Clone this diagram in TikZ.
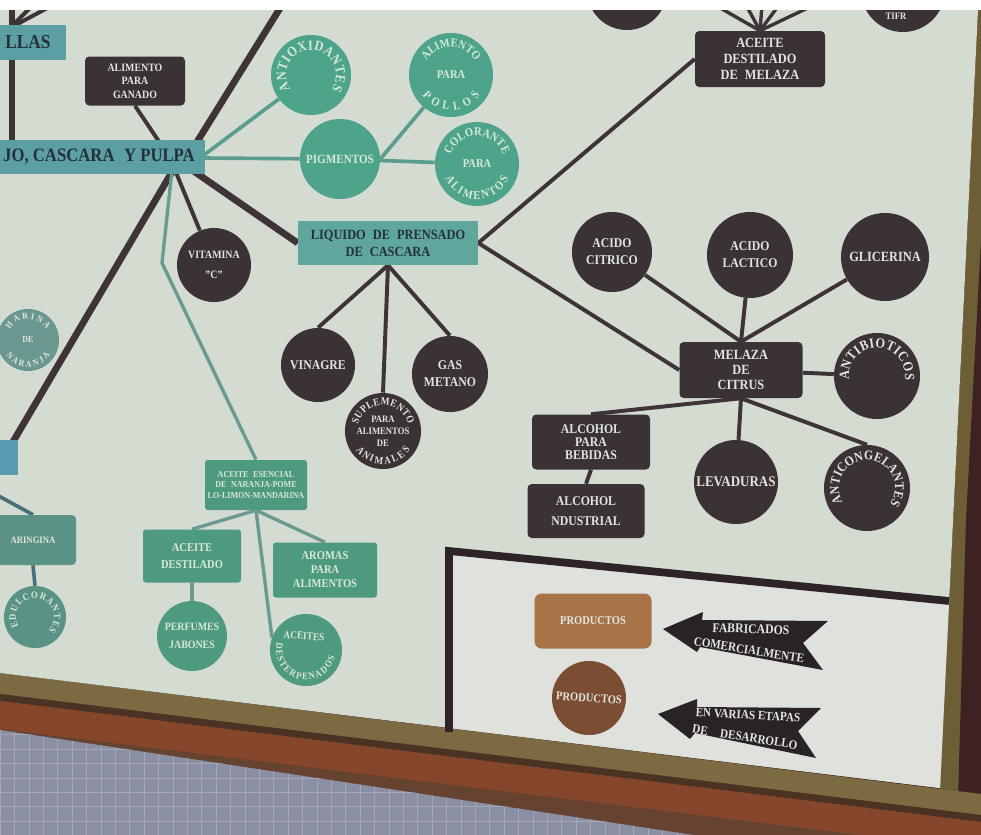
\documentclass[tikz,border=0pt]{standalone}
\usepackage{fontspec}
\setmainfont{Liberation Serif}[FakeStretch=0.88]
\usetikzlibrary{decorations.text}
\pgfdeclarelayer{board}
\pgfdeclarelayer{lines}
\pgfdeclarelayer{topl}
\pgfsetlayers{board,lines,main,topl}
\definecolor{cboard}{HTML}{D4DBD1}
\definecolor{clegbg}{HTML}{DEE1DC}
\definecolor{cdk}{HTML}{3A3234}
\definecolor{cltxt}{HTML}{E2E5DE}
\definecolor{cline}{HTML}{3E3337}
\definecolor{ctl}{HTML}{5A9C8E}
\definecolor{cessl}{HTML}{6A9A90}
\definecolor{ctealc}{HTML}{4DA48B}
\definecolor{ctealtxt}{HTML}{D5EAD5}
\definecolor{cliq}{HTML}{5FA69D}
\definecolor{cmainb}{HTML}{5B9FA3}
\definecolor{cboxtxt}{HTML}{24303A}
\definecolor{cgreenb}{HTML}{4E9A7E}
\definecolor{cgreentxt}{HTML}{D8E8D4}
\definecolor{cgreyc}{HTML}{6A9890}
\definecolor{cnar}{HTML}{5B9286}
\definecolor{clbox}{HTML}{5A9BB3}
\definecolor{cprodb}{HTML}{A87346}
\definecolor{cprodc}{HTML}{7B4D33}
\definecolor{cframe}{HTML}{2E2327}
\definecolor{carrow}{HTML}{2A2326}
\definecolor{colive}{HTML}{6E5E36}
\definecolor{cdarkred}{HTML}{3C2220}
\definecolor{cwoodA}{HTML}{7C6B42}
\definecolor{cwoodB}{HTML}{4B3323}
\definecolor{cwoodC}{HTML}{85462B}
\definecolor{cwoodD}{HTML}{654330}
\definecolor{ctile}{HTML}{8A8FA3}
\definecolor{ctilegrid}{HTML}{A3A7B6}
\definecolor{cleftl}{HTML}{4A6F78}
\newcommand\cfont[2]{\fontsize{#1}{#1}\selectfont\bfseries\color{#2}}
\newcommand\arctext[7]{\path[decorate,decoration={text along path,text align=fit to path,text={|#6|#7}}] (#1,#2) ++(#4:#3) arc[start angle=#4,end angle=#5,radius=#3];}
\begin{document}
\begin{tikzpicture}[x=0.025cm,y=-0.025cm,
  crad/.style={minimum size=#1*0.05cm},
  bsize/.style 2 args={minimum width=#1*0.025cm,minimum height=#2*0.025cm},
  fs/.style 2 args={font=\fontsize{#1}{#2}\selectfont\bfseries},
  dk/.style={fill=cdk,text=cltxt,align=center,inner sep=0pt},
  dkbox/.style={dk,rectangle,rounded corners=3pt},
  dkcirc/.style={dk,circle},
  tealc/.style={fill=ctealc,text=ctealtxt,circle,inner sep=0pt,align=center},
  greenbox/.style={fill=cgreenb,text=cgreentxt,rectangle,rounded corners=2pt,inner sep=0pt,align=center},
  tealbox/.style={text=cboxtxt,rectangle,inner sep=0pt,align=center},
  dline/.style={draw=cline,line width=2.8pt},
  dthick/.style={draw=cline,line width=4.8pt},
  tline/.style={draw=ctl,line width=2.6pt},
  essline/.style={draw=cessl,line width=2.4pt},
]
\useasboundingbox (0,0) rectangle (981,835);

\begin{pgfonlayer}{board}
\fill[cdarkred] (0,0) rectangle (981,835);
\fill[colive] (978,10) -- (981,10) -- (981,835) -- (940,835) -- (940,788) -- cycle;
\fill[cdarkred] (981,240) -- (981,835) -- (957,835) -- (966,520) -- cycle;
\fill[cwoodD] (0,673) -- (981,794) -- (981,835) -- (0,835) -- cycle;
\fill[cwoodA] (0,673) -- (981,794) -- (981,815) -- (0,694) -- cycle;
\fill[cwoodB] (0,694) -- (981,815) -- (981,822) -- (0,701) -- cycle;
\fill[cwoodC] (0,701) -- (981,822) -- (981,850) -- (0,729) -- cycle;
\begin{scope}
\clip (0,730) -- (700,836) -- (0,836) -- cycle;
\fill[ctile] (0,700) rectangle (720,840);
\draw[ctilegrid, line width=0.4pt, step=0.36cm] (0,700) grid (720,840);
\end{scope}
\fill[cboard] (0,10) -- (978,10) -- (940,788) -- (0,673) -- cycle;
\fill[clegbg] (449,551) -- (949,601) -- (940,788) -- (449,728) -- cycle;
\end{pgfonlayer}

% ---------- nodes ----------
\node[tealbox, fill=cmainb, bsize={75}{35}, fs={14}{14}] (llas) at (28,42) {LLAS};
\node[tealbox, fill=cmainb, bsize={212}{34}, fs={13.5}{14}] (main) at (99,157) {JO, CASCARA\enspace Y PULPA};
\node[dkbox, bsize={100}{49}, fs={8}{9.5}] (gan) at (135,81) {ALIMENTO\\PARA\\GANADO};
\node[tealc, crad=40] (antiox) at (311,75) {};
\node[tealc, crad=40, fs={9}{9}] (pigm) at (340,159) {PIGMENTOS};
\node[tealc, crad=42, fs={8.5}{8.5}] (pollos) at (451,75) {PARA};
\node[tealc, crad=42, fs={8.5}{8.5}] (color) at (477,164) {PARA};
\node[tealbox, fill=cliq, bsize={180}{44}, fs={10}{12}] (liq) at (388,243) {LIQUIDO\enspace DE\enspace PRENSADO\\DE\enspace CASCARA};
\node[dkcirc, crad=37, fs={8}{14}] (vit) at (214,265) {VITAMINA\\"C"};
\node[dkcirc, crad=37, fs={9.5}{10}] (vin) at (318,365) {VINAGRE};
\node[dkcirc, crad=38, fs={7}{8.5}] (supl) at (383,431) {PARA\\ALIMENTOS\\DE};
\node[dkcirc, crad=38, fs={9.5}{12}] (gas) at (450,374) {GAS\\METANO};
\node[circle, fill=cgreyc, crad=31, inner sep=0pt, text=cltxt, fs={6.5}{6.5}] (har) at (28,340) {DE};
\node[tealbox, fill=clbox, bsize={28}{35}] (lbox) at (4,457) {};
\node[rectangle, rounded corners=3pt, fill=cnar, bsize={86}{50}, text=cltxt, fs={7}{7}, inner sep=0pt] (nar) at (33,540) {ARINGINA};
\node[circle, fill=cnar, crad=31] (edul) at (35,617) {};
\node[greenbox, bsize={102}{50}, fs={6.5}{7.8}] (ess) at (256,485) {ACEITE\enspace ESENCIAL\\DE\enspace NARANJA-POME\\LO-LIMON-MANDARINA};
\node[greenbox, bsize={98}{53}, fs={8.5}{12.5}] (dest) at (192,556) {ACEITE\\DESTILADO};
\node[greenbox, bsize={104}{55}, fs={8.5}{10}] (aro) at (325,570) {AROMAS\\PARA\\ALIMENTOS};
\node[tealc, fill=cgreenb, text=cgreentxt, crad=35, fs={8}{12.5}] (perf) at (192,636) {PERFUMES\\JABONES};
\node[tealc, fill=cgreenb, crad=36] (dester) at (306,650) {};
\node[text=cgreentxt, fs={7.5}{7.5}, rotate=-4] (destert) at (304,636) {ACEITES};
\node[dkcirc, crad=40] (ptop1) at (627,-10) {};
\node[dkcirc, crad=42] (ptop2) at (903,-10) {};
\node[text=cltxt, fs={7}{7}] (ptop2t) at (896,16) {TIFR};
\node[dkbox, bsize={130}{56}, fs={10}{11.5}] (melz) at (760,59) {ACEITE\\DESTILADO\\DE\enspace MELAZA};
\node[dkcirc, crad=40, fs={9.5}{12}] (acit) at (612,252) {ACIDO\\CITRICO};
\node[dkcirc, crad=43, fs={9.5}{12}] (alac) at (750,255) {ACIDO\\LACTICO};
\node[dkcirc, crad=44, fs={10}{10}] (glic) at (885,257) {GLICERINA};
\node[dkbox, bsize={123}{56}, fs={10}{10.5}] (cit) at (741,370) {MELAZA\\DE\\CITRUS};
\node[dkcirc, crad=43] (antib) at (877,376) {};
\node[dkbox, bsize={118}{55}, fs={9.5}{9.5}] (alb) at (591,442) {ALCOHOL\\PARA\\BEBIDAS};
\node[dkbox, bsize={117}{54}, fs={9.5}{14}] (aln) at (586,511) {ALCOHOL\\NDUSTRIAL};
\node[dkcirc, crad=42, fs={10.5}{10.5}] (lev) at (736,482) {LEVADURAS};
\node[dkcirc, crad=43] (antic) at (867,488) {};
\node[rectangle, rounded corners=5pt, fill=cprodb, bsize={117}{55}, text=cltxt, fs={8.5}{8.5}, inner sep=0pt] (pbox) at (593,621) {PRODUCTOS};
\node[circle, fill=cprodc, crad=37, text=cltxt, fs={8.5}{8.5}, inner sep=0pt, rotate=-4] (pcirc) at (589,698) {PRODUCTOS};

% ---------- curved texts ----------
\arctext{311}{75}{25}{-215}{35}{\cfont{10}{ctealtxt}}{ANTIOXIDANTES}
\arctext{451}{75}{28}{-150}{-30}{\cfont{8.5}{ctealtxt}}{ALIMENTO}
\arctext{451}{75}{35}{-215}{-325}{\cfont{8.5}{ctealtxt}}{POLLOS}
\arctext{477}{164}{28}{-160}{-20}{\cfont{8.5}{ctealtxt}}{COLORANTE}
\arctext{477}{164}{35}{-205}{-335}{\cfont{8.5}{ctealtxt}}{ALIMENTOS}
\arctext{383}{431}{26}{-165}{-15}{\cfont{7.5}{cltxt}}{SUPLEMENTO}
\arctext{383}{431}{33}{-215}{-325}{\cfont{7.5}{cltxt}}{ANIMALES}
\arctext{28}{340}{21}{-150}{-30}{\cfont{6.5}{cltxt}}{HARINA}
\arctext{28}{340}{27}{-215}{-325}{\cfont{6.5}{cltxt}}{NARANJA}
\arctext{35}{617}{19}{-210}{45}{\cfont{7}{ctealtxt}}{EDULCORANTES}
\arctext{306}{650}{30}{-166}{-346}{\cfont{7}{cgreentxt}}{DESTERPENADOS}
\arctext{877}{376}{28}{-188}{8}{\cfont{10}{cltxt}}{ANTIBIOTICOS}
\arctext{867}{488}{28}{-210}{35}{\cfont{9.5}{cltxt}}{ANTICONGELANTES}

% ---------- legend arrows ----------
\fill[carrow] (663,629) -- (703,612) -- (702,620) -- (828,621) -- (803,643) -- (823,670) -- (700,647) -- (697,652) -- cycle;
\fill[carrow] (658,714) -- (697,699) -- (697,707) -- (821,708) -- (798,731) -- (816,758) -- (695,733) -- (690,739) -- cycle;
\node[text=cltxt, fs={9.5}{9.5}, rotate=-2] (arr1a) at (751,629) {FABRICADOS};
\node[text=cltxt, fs={9}{9}, rotate=-9] (arr1b) at (749,650) {COMERCIALMENTE};
\node[text=cltxt, fs={9}{9}, rotate=-3] (arr2a) at (748,715) {EN VARIAS ETAPAS};
\node[text=cltxt, fs={9}{9}, rotate=-9] (arr2b) at (745,737) {DE\quad DESARROLLO};

% ---------- connectors ----------
\begin{pgfonlayer}{lines}
\coordinate (c-top1) at (282,5);
\coordinate (c-up) at (192,150);
\coordinate (c-low) at (172,172);
\coordinate (c-mr) at (192,170);
\coordinate (c-gh) at (162,146);
\coordinate (c-vh) at (175,170);
\coordinate (c-tr) at (200,158);
\coordinate (c-tb) at (172,170);
\coordinate (c-bend) at (162,263);
\coordinate (c-tlv) at (12,5);
\coordinate (c-tlv2) at (12,150);
\coordinate (c-tlj) at (10,28);
\coordinate (c-tla) at (33,5);
\coordinate (c-tlb) at (53,5);
\coordinate (c-lft) at (-5,494);
\coordinate (c-m1) at (715,5);
\coordinate (c-m2) at (746,5);
\coordinate (c-m3) at (762,5);
\coordinate (c-m4) at (779,5);
\coordinate (c-m5) at (814,5);
\coordinate (c-L1) at (449,732);
\coordinate (c-L2) at (449,551);
\coordinate (c-L3) at (949,601);
\draw[dthick] (c-top1) -- (c-up);
\draw[dthick] (c-low) -- (lbox.center);
\draw[dthick] (c-mr) -- (liq.west);
\draw[dthick, line width=3.6pt] (c-tlv) -- (c-tlv2);
\draw[dline] (c-tlj) -- (c-tla);
\draw[dline] (c-tlj) -- (c-tlb);
\draw[dline] (gan.south) -- (c-gh);
\draw[dline] (c-vh) -- (vit);
\draw[tline] (c-tr) -- (antiox);
\draw[tline] (c-tr) -- (pigm);
\draw[tline] (pigm) -- (color);
\draw[tline] (pigm.east) -- (pollos);
\draw[essline] (c-tb) -- (c-bend) -- (ess.north);
\draw[essline] (ess.south) -- (dest.north);
\draw[essline] (ess.south) -- (aro.north);
\draw[essline] (ess.south) -- (dester.160);
\draw[essline] (dest.south) -- (perf.north);
\draw[draw=cleftl, line width=2.6pt] (c-lft) -- (nar.north);
\draw[draw=cleftl, line width=2.6pt] (nar.south) -- (edul.north);
\draw[dline] (liq.south) -- (vin.north);
\draw[dline] (liq.south) -- (supl.north);
\draw[dline] (liq.south) -- (gas.north);
\draw[dline] (liq.east) -- (melz.west);
\draw[dline] (liq.east) -- (cit.west);
\foreach \c in {c-m1,c-m2,c-m3,c-m4,c-m5} \draw[dline, line width=2.4pt] (\c) -- (melz.north);
\draw[dline] (acit) -- (cit.north);
\draw[dline] (alac) -- (cit.north);
\draw[dline] (glic) -- (cit.north);
\draw[dline] (antib) -- (cit);
\draw[dline] (cit.south) -- (alb.north);
\draw[dline] (cit.south) -- (lev);
\draw[dline] (cit.south) -- (antic.north);
\draw[dline] (alb.south) -- (aln.north);
\draw[draw=cframe, line width=5.5pt] (c-L1) -- (c-L2) -- (c-L3);
\end{pgfonlayer}

\begin{pgfonlayer}{topl}
\fill[white] (0,0) rectangle (981,10);
\end{pgfonlayer}
\end{tikzpicture}
\end{document}
